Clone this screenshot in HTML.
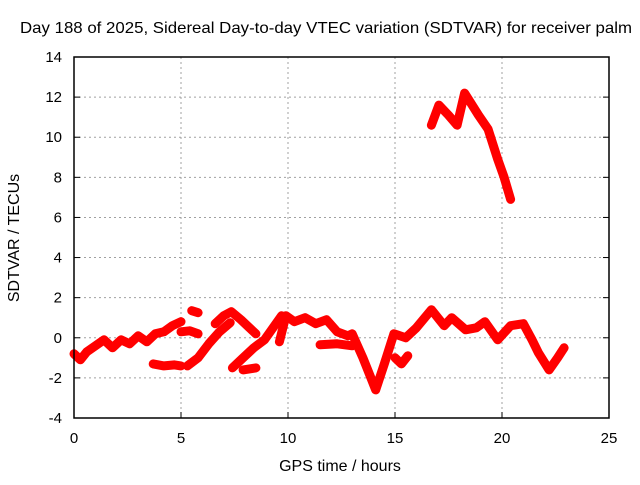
<!DOCTYPE html>
<html><head><meta charset="utf-8"><style>
body{margin:0;background:#fff}
svg text{font-family:"Liberation Sans",sans-serif;font-size:16px;fill:#000}
svg text.tk{font-size:15px}
</style></head><body>
<svg id="chart" width="640" height="480">
<text x="326" y="33" text-anchor="middle" textLength="612" lengthAdjust="spacingAndGlyphs">Day 188 of 2025, Sidereal Day-to-day VTEC variation (SDTVAR) for receiver palm</text>
<text x="340" y="471" text-anchor="middle">GPS time / hours</text>
<text transform="translate(19,238) rotate(-90)" text-anchor="middle">SDTVAR / TECUs</text>
<g id="grid"></g><g id="ticks"></g><g id="series"></g>
<rect x="74" y="57" width="535" height="361" fill="none" stroke="#000" stroke-width="1.5"/>
</svg>
<script>
const xTicks=[0,5,10,15,20,25];
const yTicks=[-4,-2,0,2,4,6,8,10,12,14];
const trackMainH=[0,0.3,0.6,1,1.4,1.8,2.2,2.6,3,3.4,3.8,4.2,4.6,5];
const trackMainV=[-0.8,-1.1,-0.7,-0.4,-0.1,-0.5,-0.1,-0.3,0.1,-0.2,0.2,0.3,0.6,0.8];
const trackLowH=[3.7,4.2,4.7,5.0];
const trackLowV=[-1.3,-1.4,-1.35,-1.4];
const trackDiag1H=[5.3,5.8,6.3,6.8,7.3];
const trackDiag1V=[-1.4,-1.0,-0.3,0.3,0.75];
const trackDiag2H=[7.4,7.9,8.4,8.9,9.3,9.7];
const trackDiag2V=[-1.5,-1.0,-0.5,-0.1,0.5,1.1];
const trackHumpH=[6.6,7.0,7.35,7.8,8.2,8.5];
const trackHumpV=[0.7,1.1,1.3,0.9,0.5,0.2];
const trackBlobH=[5.5,5.8];
const trackBlobV=[1.35,1.25];
const trackSmallH=[5.0,5.4,5.8];
const trackSmallV=[0.3,0.35,0.2];
const trackLow2H=[7.9,8.5];
const trackLow2V=[-1.6,-1.5];
const trackMidH=[9.6,9.9,10.3,10.8,11.3,11.8,12.3,12.8,13.0,13.5,14.1,14.5,14.95,15.5,16.0,16.7,17.3,17.65,18.3,18.8,19.2,19.8,20.4,21.0,21.4,21.7,22.2,22.6,22.9];
const trackMidV=[-0.2,1.1,0.8,1.0,0.7,0.9,0.3,0.1,0.2,-1.0,-2.6,-1.3,0.2,0.0,0.5,1.4,0.6,1.0,0.4,0.5,0.8,-0.1,0.6,0.7,-0.1,-0.75,-1.6,-1.0,-0.5];
const trackBranchH=[11.5,12.3,13.0];
const trackBranchV=[-0.35,-0.3,-0.4];
const trackDipH=[15.0,15.3,15.6];
const trackDipV=[-1.0,-1.3,-0.9];
const trackUpperH=[16.7,17.05,17.5,17.9,18.25,18.9,19.35,19.8,20.1,20.4];
const trackUpperV=[10.6,11.6,11.1,10.6,12.2,11.1,10.4,8.9,8.0,6.9];

const X0=74,X1=609,Y0=418,Y1=57;
const xs=h=>X0+(h-0)/25*(X1-X0);
const ys=v=>Y0-(v+4)/18*(Y0-Y1);
const NS="http://www.w3.org/2000/svg";
const grid=document.getElementById('grid'),ticks=document.getElementById('ticks'),ser=document.getElementById('series');
function mk(tag,attrs,parent){const e=document.createElementNS(NS,tag);for(const k in attrs)e.setAttribute(k,attrs[k]);parent.appendChild(e);return e;}
xTicks.forEach(t=>{
 const x=xs(t);
 if(t>0&&t<25){const g=mk('line',{x1:x,x2:x,y1:Y1,y2:Y0,stroke:'#a0a0a0','stroke-dasharray':'2,3'},grid);
 
 }
 const tk=mk('line',{x1:x,x2:x,y1:Y0,y2:Y0-6,stroke:'#000'},ticks);
 
 
 const tx=mk('text',{x:x,y:443,'text-anchor':'middle',class:'tk'},ticks);tx.textContent=t;
 
 
});
yTicks.forEach(t=>{
 const y=ys(t);
 if(t>-4&&t<14){const g=mk('line',{x1:X0,x2:X1,y1:y,y2:y,stroke:'#a0a0a0','stroke-dasharray':'2,3'},grid);
 
 }
 const tk=mk('line',{x1:X0,x2:X0+6,y1:y,y2:y,stroke:'#000'},ticks);
 
 
 const tk2=mk('line',{x1:X1,x2:X1-6,y1:y,y2:y,stroke:'#000'},ticks);
 
 
 const tx=mk('text',{x:62,y:y+5,'text-anchor':'end',class:'tk'},ticks);tx.textContent=t;
 
 
});
const tracks=[[trackMainH,trackMainV],[trackLowH,trackLowV],[trackDiag1H,trackDiag1V],[trackDiag2H,trackDiag2V],[trackHumpH,trackHumpV],[trackBlobH,trackBlobV],[trackSmallH,trackSmallV],[trackLow2H,trackLow2V],[trackMidH,trackMidV],[trackBranchH,trackBranchV],[trackDipH,trackDipV],[trackUpperH,trackUpperV]];
tracks.forEach(([H,V])=>{
 const pts=H.map((h,i)=>xs(h).toFixed(1)+','+ys(V[i]).toFixed(1)).join(' ');
 const p=mk('polyline',{points:pts,fill:'none',stroke:'#ff0000','stroke-width':9,'stroke-linejoin':'round','stroke-linecap':'round'},ser);
 
 
});
</script>
</body></html>
